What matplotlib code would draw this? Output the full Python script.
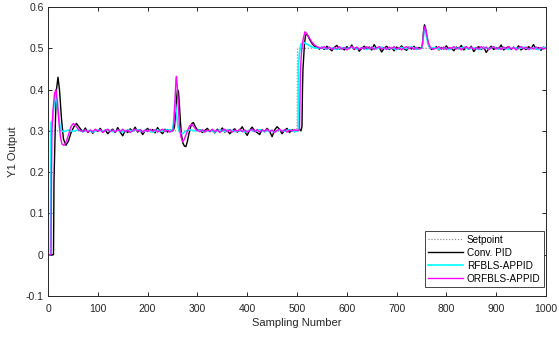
import matplotlib
matplotlib.use("Agg")
import matplotlib.pyplot as plt

plt.rcParams['font.family'] = ['Liberation Sans', 'DejaVu Sans']
plt.rcParams['axes.unicode_minus'] = False

# ---------------- data ----------------
sp_n = [0, 1, 500, 501, 1000]
sp_y = [0.0, 0.3, 0.3, 0.5, 0.5]

# Conv. PID (black)
pid_n = [0, 11, 12, 13, 15, 17, 20, 23, 27, 31, 36, 41, 46, 52, 57, 62,
         65, 70, 75, 80, 85, 90, 95, 100, 105, 110, 115, 120, 125, 130, 135, 140,
         145, 150, 155, 160, 165, 170, 175, 180, 185, 190, 195, 200, 205, 210,
         215, 220, 225, 230, 235, 240, 245, 250,
         252, 254, 256, 258, 260, 262, 264, 266, 268, 271, 274, 277, 280, 283,
         286, 289, 292, 295,
         300, 305, 310, 315, 320, 325, 330, 335, 340, 345, 350, 355, 360, 365,
         370, 375, 380, 385, 390, 395, 400, 405, 410, 415, 420, 425, 430, 435,
         440, 445, 450, 455, 460, 465, 470, 475, 480, 485, 490, 495, 500,
         502, 505, 508, 510, 511, 512, 513, 515, 517, 519, 522, 526, 530, 535, 540,
         545, 550, 555, 560, 565, 570, 575, 580, 585, 590, 595, 600, 605, 610,
         615, 620, 625, 630, 635, 640, 645, 650, 655, 660, 665, 670, 675, 680,
         685, 690, 695, 700, 705, 710, 715, 720, 725, 730, 735, 740, 745, 750,
         752, 754, 756, 758, 760, 763, 766, 770,
         775, 780, 785, 790, 795, 800, 805, 810, 815, 820, 825, 830, 835, 840,
         845, 850, 855, 860, 865, 870, 875, 880, 885, 890, 895, 900, 905, 910,
         915, 920, 925, 930, 935, 940, 945, 950, 955, 960, 965, 970, 975, 980,
         985, 990, 995, 1000]
pid_y = [0.0, 0.0, 0.18, 0.23, 0.33, 0.40, 0.43, 0.40, 0.33, 0.28, 0.265, 0.275, 0.295, 0.31, 0.318, 0.31,
         0.305, 0.298, 0.307, 0.296, 0.301, 0.294, 0.303, 0.299, 0.306, 0.297, 0.302, 0.293, 0.300, 0.304, 0.296, 0.308,
         0.297, 0.288, 0.301, 0.296, 0.305, 0.299, 0.309, 0.297, 0.302, 0.291, 0.300, 0.306, 0.298, 0.303,
         0.295, 0.308, 0.299, 0.293, 0.304, 0.297, 0.302, 0.300,
         0.302, 0.31, 0.34, 0.375, 0.40, 0.395, 0.36, 0.32, 0.29, 0.27, 0.263, 0.262, 0.275, 0.293,
         0.308, 0.318, 0.32, 0.312,
         0.302, 0.303, 0.296, 0.301, 0.306, 0.298, 0.302, 0.295, 0.304, 0.299, 0.307, 0.297, 0.302, 0.293,
         0.300, 0.305, 0.297, 0.301, 0.310, 0.298, 0.289, 0.302, 0.309, 0.300, 0.296, 0.291, 0.303, 0.298,
         0.306, 0.299, 0.286, 0.302, 0.310, 0.304, 0.293, 0.301, 0.306, 0.296, 0.303, 0.298, 0.301,
         0.30, 0.305, 0.30, 0.31, 0.40, 0.45, 0.47, 0.51, 0.53, 0.535, 0.53, 0.52, 0.512, 0.505, 0.502,
         0.498, 0.503, 0.497, 0.505, 0.499, 0.494, 0.502, 0.507, 0.498, 0.501, 0.496, 0.504, 0.499, 0.508,
         0.497, 0.502, 0.493, 0.500, 0.505, 0.498, 0.503, 0.496, 0.509, 0.499, 0.502, 0.491, 0.500, 0.505,
         0.497, 0.502, 0.494, 0.503, 0.498, 0.506, 0.499, 0.495, 0.503, 0.498, 0.505, 0.497, 0.502, 0.500,
         0.51, 0.54, 0.557, 0.55, 0.535, 0.515, 0.503, 0.497,
         0.499, 0.504, 0.496, 0.502, 0.498, 0.506, 0.497, 0.501, 0.494, 0.503, 0.499, 0.507, 0.496, 0.502,
         0.498, 0.505, 0.492, 0.500, 0.504, 0.497, 0.503, 0.490, 0.499, 0.505, 0.497, 0.502, 0.498, 0.508,
         0.496, 0.501, 0.504, 0.497, 0.503, 0.498, 0.506, 0.496, 0.501, 0.497, 0.504, 0.499, 0.509, 0.498,
         0.502, 0.495, 0.503, 0.500]

# RFBLS-APPID (cyan)
rf_n = [0, 5, 6, 9, 12, 15, 18, 21, 24, 27, 32, 40,
        50, 60, 70, 80, 90, 100, 110, 120, 130, 140, 150, 160, 170, 180, 190,
        200, 210, 220, 230, 240, 250,
        252, 255, 258, 261, 265, 270, 276, 285, 295,
        305, 315, 325, 335, 345, 355, 365, 375, 385, 395, 405, 415, 425, 435,
        445, 455, 465, 475, 485, 495, 500,
        502, 503, 505, 508, 512, 520, 530, 540,
        550, 560, 570, 580, 590, 600, 610, 620, 630, 640, 650, 660, 670, 680,
        690, 700, 710, 720, 730, 740, 750,
        753, 756, 759, 763, 768,
        775, 785, 795, 805, 815, 825, 835, 845, 855, 865, 875, 885, 895, 905,
        915, 925, 935, 945, 955, 965, 975, 985, 995, 1000]
rf_y = [0.0, 0.0, 0.32, 0.325, 0.36, 0.385, 0.37, 0.34, 0.31, 0.30, 0.298, 0.302,
        0.299, 0.302, 0.298, 0.301, 0.297, 0.302, 0.299, 0.303, 0.298, 0.301, 0.297, 0.302, 0.300, 0.303, 0.298,
        0.301, 0.297, 0.302, 0.299, 0.303, 0.300,
        0.32, 0.372, 0.34, 0.31, 0.295, 0.293, 0.299, 0.303, 0.300,
        0.302, 0.298, 0.301, 0.297, 0.302, 0.299, 0.303, 0.298, 0.301, 0.297, 0.302, 0.299, 0.303, 0.298,
        0.301, 0.297, 0.302, 0.299, 0.303, 0.298, 0.300,
        0.30, 0.46, 0.49, 0.51, 0.515, 0.51, 0.503, 0.50,
        0.502, 0.498, 0.501, 0.497, 0.502, 0.499, 0.503, 0.498, 0.501, 0.497, 0.502, 0.499, 0.503, 0.498,
        0.501, 0.497, 0.502, 0.499, 0.503, 0.498, 0.500,
        0.52, 0.545, 0.535, 0.51, 0.50,
        0.502, 0.498, 0.501, 0.497, 0.502, 0.499, 0.503, 0.498, 0.501, 0.497, 0.502, 0.499, 0.503, 0.498,
        0.501, 0.497, 0.502, 0.499, 0.503, 0.498, 0.501, 0.497, 0.502, 0.500]

# ORFBLS-APPID (magenta)
orf_n = [0, 6, 7, 8, 10, 13, 16, 19, 22, 25, 28, 32, 36, 41, 46, 51, 56, 62,
         70, 75, 80, 85, 90, 95, 100, 105, 110, 115, 120, 125, 130, 135, 140,
         145, 150, 155, 160, 165, 170, 175, 180, 185, 190, 195, 200, 205, 210,
         215, 220, 225, 230, 235, 240, 245, 250,
         251, 253, 255, 257, 258, 260, 262, 264, 267, 270, 273, 277, 281, 285,
         289, 293, 298,
         305, 310, 315, 320, 325, 330, 335, 340, 345, 350, 355, 360, 365, 370,
         375, 380, 385, 390, 395, 400, 405, 410, 415, 420, 425, 430, 435, 440,
         445, 450, 455, 460, 465, 470, 475, 480, 485, 490, 495, 500,
         505, 507, 509, 512, 516, 520, 525, 530, 535, 542,
         550, 555, 560, 565, 570, 575, 580, 585, 590, 595, 600, 605, 610, 615,
         620, 625, 630, 635, 640, 645, 650, 655, 660, 665, 670, 675, 680, 685,
         690, 695, 700, 705, 710, 715, 720, 725, 730, 735, 740, 745, 750,
         752, 754, 756, 758, 761, 764, 768, 772,
         780, 785, 790, 795, 800, 805, 810, 815, 820, 825, 830, 835, 840, 845,
         850, 855, 860, 865, 870, 875, 880, 885, 890, 895, 900, 905, 910, 915,
         920, 925, 930, 935, 940, 945, 950, 955, 960, 965, 970, 975, 980, 985,
         990, 995, 1000]
orf_y = [0.0, 0.0, 0.2, 0.3, 0.35, 0.39, 0.40, 0.37, 0.32, 0.285, 0.268, 0.265, 0.272, 0.29, 0.31, 0.318, 0.312, 0.302,
         0.298, 0.303, 0.297, 0.302, 0.298, 0.304, 0.299, 0.303, 0.296, 0.301, 0.304, 0.298, 0.302, 0.297, 0.303,
         0.299, 0.304, 0.298, 0.302, 0.296, 0.301, 0.304, 0.299, 0.303, 0.297, 0.302, 0.298, 0.304, 0.299,
         0.303, 0.297, 0.301, 0.304, 0.298, 0.302, 0.297, 0.301,
         0.30, 0.32, 0.37, 0.425, 0.432, 0.40, 0.35, 0.31, 0.285, 0.274, 0.278, 0.29, 0.303, 0.313,
         0.315, 0.31, 0.302,
         0.298, 0.303, 0.297, 0.302, 0.299, 0.304, 0.298, 0.302, 0.296, 0.301, 0.304, 0.298, 0.303, 0.297,
         0.302, 0.299, 0.304, 0.298, 0.302, 0.297, 0.301, 0.304, 0.298, 0.303, 0.297, 0.302, 0.299, 0.304,
         0.298, 0.302, 0.296, 0.301, 0.304, 0.298, 0.303, 0.297, 0.302, 0.299, 0.303, 0.301,
         0.302, 0.45, 0.49, 0.52, 0.54, 0.535, 0.525, 0.515, 0.508, 0.503,
         0.500, 0.504, 0.498, 0.503, 0.497, 0.502, 0.499, 0.504, 0.498, 0.502, 0.496, 0.501, 0.504, 0.499,
         0.503, 0.497, 0.502, 0.498, 0.504, 0.499, 0.503, 0.497, 0.501, 0.504, 0.498, 0.502, 0.497, 0.503,
         0.499, 0.504, 0.498, 0.502, 0.496, 0.501, 0.504, 0.499, 0.503, 0.497, 0.502, 0.498, 0.500,
         0.51, 0.535, 0.553, 0.548, 0.53, 0.512, 0.502, 0.498,
         0.500, 0.504, 0.498, 0.503, 0.497, 0.502, 0.499, 0.504, 0.498, 0.502, 0.496, 0.501, 0.504, 0.499,
         0.503, 0.497, 0.502, 0.498, 0.504, 0.499, 0.503, 0.497, 0.501, 0.504, 0.498, 0.502, 0.497, 0.503,
         0.499, 0.504, 0.498, 0.502, 0.496, 0.501, 0.504, 0.499, 0.503, 0.497, 0.502, 0.498, 0.503, 0.499,
         0.502, 0.498, 0.501]

x_ticks = [0, 100, 200, 300, 400, 500, 600, 700, 800, 900, 1000]
y_ticks = [-0.1, 0, 0.1, 0.2, 0.3, 0.4, 0.5, 0.6]
y_tick_labels = ['-0.1', '0', '0.1', '0.2', '0.3', '0.4', '0.5', '0.6']

# ---------------- figure ----------------
fig = plt.figure(figsize=(5.59, 3.37), dpi=100)
ax = fig.add_axes([0.0859, 0.1217, 0.8908, 0.8575])

ax.plot(sp_n, sp_y, linestyle=':', color='#7f7f7f', linewidth=0.8, label='Setpoint')
ax.plot(pid_n, pid_y, color='black', linewidth=1.0, label='Conv. PID')
ax.plot(rf_n, rf_y, color='#00ffff', linewidth=1.2, label='RFBLS-APPID')
ax.plot(orf_n, orf_y, color='#ff00ff', linewidth=1.0, label='ORFBLS-APPID')

ax.set_xlim(0, 1000)
ax.set_ylim(-0.1, 0.6)
ax.set_xticks(x_ticks)
ax.set_yticks(y_ticks)
ax.set_yticklabels(y_tick_labels)
ax.tick_params(direction='in', top=True, right=True, length=3, width=0.6,
               labelsize=7.5, labelcolor='#262626', pad=3)
ax.tick_params(axis='x', pad=6)
for s in ax.spines.values():
    s.set_linewidth(0.7)
    s.set_color('#262626')

ax.set_xlabel('Sampling Number', fontsize=8, color='#262626', labelpad=3)
ax.set_ylabel('Y1 Output', fontsize=8, color='#262626', labelpad=6)

leg = ax.legend(loc='lower right', bbox_to_anchor=(0.996, 0.03), fontsize=7.2,
                frameon=True, fancybox=False, framealpha=1, edgecolor='#262626',
                handlelength=3.5, handletextpad=0.35, labelspacing=0.3,
                borderpad=0.35, borderaxespad=0.0)
leg.get_frame().set_linewidth(0.6)

fig.savefig('out.png', dpi=100)
